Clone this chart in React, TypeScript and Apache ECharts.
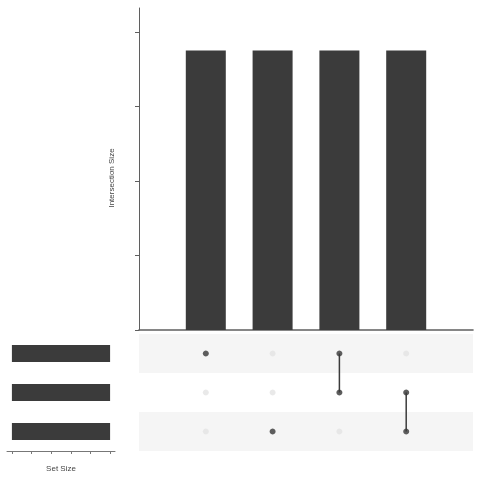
import React, { useEffect, useRef } from "react";
import * as echarts from "echarts";

const setNames = ["Set 1", "Set 2", "Set 3"];
const setSizes = [5, 5, 5];
const intersectionSizes = [3.75, 3.75, 3.75, 3.75];
const memberships = [[0], [2], [0, 1], [1, 2]];
const yTickValues = [0, 1, 2, 3, 4];
const setTickValues = [0, 1, 2, 3, 4, 5];

const DARK = "#3b3b3b";
const AXIS = "#5f5f5f";
const FONT = "Liberation Sans";

export default function App() {
  const ref = useRef<HTMLDivElement>(null);
  useEffect(() => {
    document.body.style.margin = "0";
    const chart = echarts.init(ref.current!, null, { renderer: "svg" });
    const nCols = intersectionSizes.length;
    const allDots: number[][] = [];
    for (let c = 0; c < nCols; c++) for (let r = 0; r < setNames.length; r++) allDots.push([c, r]);
    const activeDots: number[][] = [];
    memberships.forEach((m, c) => m.forEach((r) => activeDots.push([c, r])));
    const lineSeries = memberships
      .map((m, c) => ({ m, c }))
      .filter(({ m }) => m.length > 1)
      .map(({ m, c }) => ({
        type: "line",
        xAxisIndex: 1,
        yAxisIndex: 1,
        data: [[c, Math.min(...m)], [c, Math.max(...m)]],
        symbol: "none",
        lineStyle: { color: DARK, width: 1.5 },
        z: 3,
        silent: true,
      }));

    chart.setOption({
      animation: false,
      textStyle: { fontFamily: FONT },
      grid: [
        { left: 139, top: 8, width: 334, height: 322 },
        { left: 139, top: 334, width: 334, height: 117 },
        { left: 7, top: 334, width: 108, height: 117 },
      ],
      xAxis: [
        {
          gridIndex: 0, type: "value", min: -1, max: nCols, position: "bottom",
          axisLine: { show: true, onZero: false, lineStyle: { color: AXIS, width: 1.6 } },
          axisTick: { show: false }, axisLabel: { show: false }, splitLine: { show: false },
        },
        {
          gridIndex: 1, type: "value", min: -1, max: nCols, show: false,
        },
        {
          gridIndex: 2, type: "value", min: -0.25, max: 5.25, inverse: true, position: "bottom",
          name: "Set Size", nameLocation: "middle", nameGap: 13,
          nameTextStyle: { fontSize: 8, color: "#444", fontFamily: FONT },
          axisLine: { show: true, onZero: false, lineStyle: { color: "#777", width: 1 } },
          axisTick: { show: true, customValues: setTickValues, length: 3, lineStyle: { color: "#777" } },
          axisLabel: { show: false }, splitLine: { show: false },
        },
      ],
      yAxis: [
        {
          gridIndex: 0, type: "value", min: 0, max: 4.32, interval: 1, position: "left",
          name: "Intersection Size", nameLocation: "middle", nameGap: 24,
          nameTextStyle: { fontSize: 8, color: "#444", fontFamily: FONT, padding: [0, 18, 0, 0] },
          axisLine: { show: true, onZero: false, lineStyle: { color: AXIS, width: 1 } },
          axisTick: { show: true, customValues: yTickValues, length: 4, lineStyle: { color: AXIS } },
          axisLabel: { show: false }, splitLine: { show: false },
        },
        {
          gridIndex: 1, type: "value", min: -0.5, max: setNames.length - 0.5, inverse: true, show: false,
        },
        {
          gridIndex: 2, type: "category", data: setNames, inverse: true, show: false,
        },
      ],
      series: [
        {
          type: "bar", xAxisIndex: 0, yAxisIndex: 0,
          data: intersectionSizes.map((v, i) => [i, v]),
          barWidth: 40, itemStyle: { color: DARK }, silent: true,
        },
        {
          type: "scatter", xAxisIndex: 1, yAxisIndex: 1, data: allDots,
          symbolSize: 6, itemStyle: { color: "#e3e3e3" }, silent: true, z: 2,
          markArea: {
            silent: true,
            itemStyle: { color: "#f5f5f5" },
            data: setNames
              .map((_, r) => r)
              .filter((r) => r % 2 === 0)
              .map((r) => [{ yAxis: r - 0.5 }, { yAxis: r + 0.5 }]),
          },
        },
        ...lineSeries,
        {
          type: "scatter", xAxisIndex: 1, yAxisIndex: 1, data: activeDots,
          symbolSize: 6, itemStyle: { color: DARK }, silent: true, z: 4,
        },
        {
          type: "bar", xAxisIndex: 2, yAxisIndex: 2,
          data: setSizes,
          barWidth: 17, itemStyle: { color: DARK }, silent: true,
        },
      ],
    });
    return () => chart.dispose();
  }, []);
  return <div ref={ref} style={{ position: "fixed", left: 0, top: 0, width: 480, height: 480 }} />;
}
